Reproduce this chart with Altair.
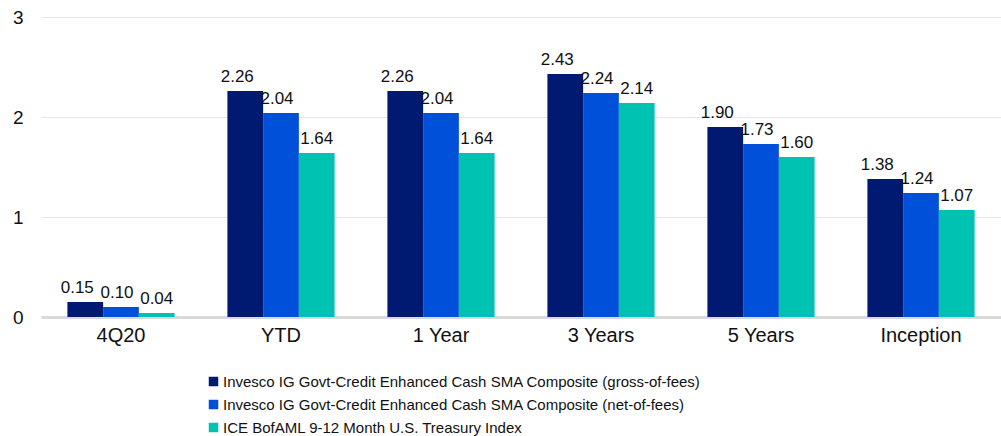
import altair as alt
import pandas as pd

periods = ["4Q20", "YTD", "1 Year", "3 Years", "5 Years", "Inception"]
series = [
    "Invesco IG Govt-Credit Enhanced Cash SMA Composite (gross-of-fees)",
    "Invesco IG Govt-Credit Enhanced Cash SMA Composite (net-of-fees)",
    "ICE BofAML 9-12 Month U.S. Treasury Index",
]
gross = [0.15, 2.26, 2.26, 2.43, 1.90, 1.38]
net = [0.10, 2.04, 2.04, 2.24, 1.73, 1.24]
index = [0.04, 1.64, 1.64, 2.14, 1.60, 1.07]
colors = ["#001A72", "#0050D9", "#00C2B2"]

rows = []
for i, p in enumerate(periods):
    for s, vals in zip(series, [gross, net, index]):
        rows.append({"period": p, "series": s, "value": vals[i],
                     "label": f"{vals[i]:.2f}"})
df = pd.DataFrame(rows)

FONT = "Liberation Sans"
INK = "#111111"

x = alt.X("period:N", sort=periods, title=None,
          scale=alt.Scale(paddingInner=0.33, paddingOuter=0.165),
          axis=alt.Axis(labelAngle=0, labelFontSize=20, labelColor=INK,
                        labelFont=FONT, labelPadding=8, ticks=False,
                        domainColor="#d9d9d9", domainWidth=3, grid=False))
xo = alt.XOffset("series:N", sort=series,
                 scale=alt.Scale(paddingInner=0, paddingOuter=0))
y = alt.Y("value:Q", title=None,
          scale=alt.Scale(domain=[0, 3], nice=False),
          axis=alt.Axis(values=[0, 1, 2, 3], format="d", labelFontSize=19,
                        labelColor=INK, labelFont=FONT, labelPadding=18,
                        ticks=False, domain=False, gridColor="#e6e6e6",
                        gridWidth=1))

bars = alt.Chart(df).mark_bar().encode(
    x=x, xOffset=xo, y=y,
    color=alt.Color("series:N", sort=series,
                    scale=alt.Scale(domain=series, range=colors),
                    legend=alt.Legend(
                        title=None, orient="none", legendX=165, legendY=357,
                        direction="vertical", symbolType="square",
                        symbolSize=90, symbolStrokeWidth=0,
                        labelFontSize=15, labelFont=FONT, labelColor=INK,
                        labelOffset=2, rowPadding=7, labelLimit=800)),
)

# value labels sit above each bar, nudged a little per series
labels = alt.layer(
    *[
        alt.Chart(df).transform_filter(alt.datum.series == s).mark_text(
            fontSize=17, font=FONT, color=INK, baseline="alphabetic",
            dy=-9, dx=d
        ).encode(x=x, xOffset=xo, y=y, text="label:N")
        for s, d in zip(series, [-8, -4, 0])
    ]
)

chart = alt.layer(bars, labels).properties(
    width=960, height=300,
    background="white",
    autosize=alt.AutoSizeParams(type="none"),
    padding={"left": 41, "top": 17, "right": 0, "bottom": 119},
).configure_view(stroke="transparent", strokeWidth=0).configure_axisX(
    grid=False
).configure_axisY(domain=False)

chart.save("out.html", embed_options={"renderer": "svg", "actions": False})
